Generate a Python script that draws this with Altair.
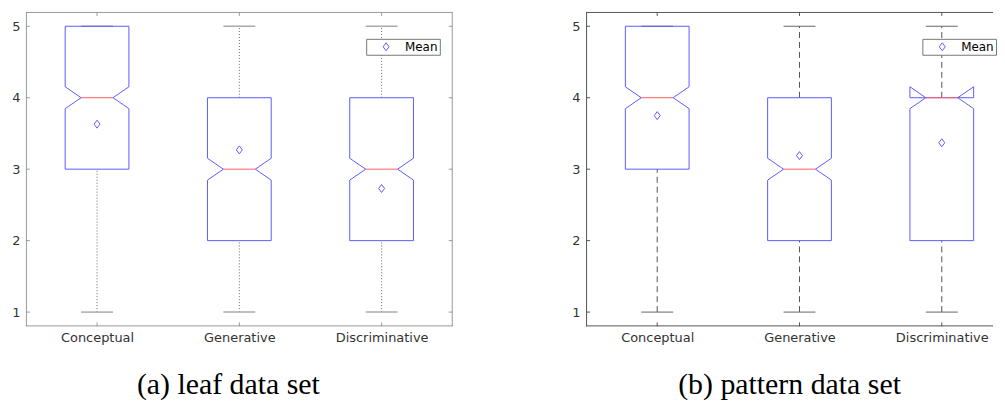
import altair as alt
import pandas as pd

cats = ["Conceptual", "Generative", "Discriminative"]
pos = [1, 2, 3]

# leaf data set
leaf_lo = [1, 1, 1]
leaf_q1 = [3, 2, 2]
leaf_med = [4, 3, 3]
leaf_q3 = [5, 4, 4]
leaf_hi = [5, 5, 5]
leaf_notch = [0.153, 0.153, 0.153]
leaf_mean = [3.63, 3.27, 2.73]

# pattern data set
pat_lo = [1, 1, 1]
pat_q1 = [3, 2, 2]
pat_med = [4, 3, 4]
pat_q3 = [5, 4, 4]
pat_hi = [5, 5, 5]
pat_notch = [0.153, 0.153, 0.153]
pat_mean = [3.75, 3.19, 3.37]

y_ticks = [1, 2, 3, 4, 5]

H = 316
PX_PER_UNIT = 143.0
BOX_HALF = 0.224
NOTCH_HALF = 0.112
BLUE = "#5c5cff"
RED = "#ff5c5c"


def panel(lo, q1, med, q3, hi, notch, mean, caption, frame, whisk_col, whisk_dash,
          cap_col, cap_w, cap_x, width, legend_x, full_frame):
    stats = pd.DataFrame({"cat": cats, "x": pos, "lo": lo, "q1": q1, "med": med,
                          "q3": q3, "hi": hi, "mean": mean, "label": "Mean"})
    stats["xl"] = stats["x"] - NOTCH_HALF
    stats["xr"] = stats["x"] + NOTCH_HALF

    rows = []
    for i, c in enumerate(cats):
        p = pos[i]
        nlo = med[i] - notch[i]
        nhi = med[i] + notch[i]
        pts = [(p - BOX_HALF, q1[i]), (p - BOX_HALF, nlo), (p - NOTCH_HALF, med[i]),
               (p - BOX_HALF, nhi), (p - BOX_HALF, q3[i]), (p + BOX_HALF, q3[i]),
               (p + BOX_HALF, nhi), (p + NOTCH_HALF, med[i]), (p + BOX_HALF, nlo),
               (p + BOX_HALF, q1[i]), (p - BOX_HALF, q1[i])]
        for k, (x, y) in enumerate(pts):
            rows.append({"cat": c, "k": k, "x": x, "y": y})
    poly = pd.DataFrame(rows)

    xmax = 0.5 + width / PX_PER_UNIT
    xs = alt.Scale(domain=[0.5, xmax], nice=False, zero=False)
    ys = alt.Scale(domain=[0.8, 5.2], nice=False, zero=False)

    label_expr = "datum.value == 1 ? 'Conceptual' : datum.value == 2 ? 'Generative' : 'Discriminative'"
    xaxis = alt.Axis(values=pos, labelExpr=label_expr, ticks=False, domain=False, grid=False,
                     labelFont="DejaVu Sans", labelFontSize=13, labelColor="#333333",
                     labelPadding=5, title=caption, titleFont="Liberation Serif",
                     titleFontSize=30, titleFontWeight="normal", titleColor="#000000",
                     titleX=cap_x, titleY=58, titleAlign="center", titleBaseline="middle")
    yaxis = alt.Axis(values=y_ticks, format="d", ticks=False, domain=False, grid=False,
                     labelFont="DejaVu Sans", labelFontSize=13, labelColor="#333333",
                     labelPadding=6, title=None, minExtent=18, maxExtent=18)

    base = alt.Chart(stats)
    whisk_up = base.mark_rule(color=whisk_col, strokeDash=whisk_dash, strokeWidth=1).encode(
        x=alt.X("x:Q", scale=xs, axis=xaxis), y=alt.Y("q3:Q", scale=ys, axis=yaxis), y2="hi:Q")
    whisk_dn = base.mark_rule(color=whisk_col, strokeDash=whisk_dash, strokeWidth=1).encode(
        x=alt.X("x:Q", scale=xs), y=alt.Y("lo:Q", scale=ys), y2="q1:Q")
    cap_hi = base.mark_rule(color=cap_col, strokeWidth=cap_w).encode(
        x=alt.X("xl:Q", scale=xs), x2="xr:Q", y=alt.Y("hi:Q", scale=ys))
    cap_lo = base.mark_rule(color=cap_col, strokeWidth=cap_w).encode(
        x=alt.X("xl:Q", scale=xs), x2="xr:Q", y=alt.Y("lo:Q", scale=ys))
    boxes = alt.Chart(poly).mark_line(color=BLUE, strokeWidth=1).encode(
        x=alt.X("x:Q", scale=xs), y=alt.Y("y:Q", scale=ys), detail="cat:N", order="k:Q")
    medians = base.mark_rule(color=RED, strokeWidth=1).encode(
        x=alt.X("xl:Q", scale=xs), x2="xr:Q", y=alt.Y("med:Q", scale=ys))
    diamond = "M0,-1L0.75,0L0,1L-0.75,0Z"
    means = base.mark_point(shape=diamond, size=64, filled=False, strokeWidth=1, opacity=1).encode(
        x=alt.X("x:Q", scale=xs), y=alt.Y("mean:Q", scale=ys),
        color=alt.Color("label:N", scale=alt.Scale(domain=["Mean"], range=[BLUE]),
                        legend=alt.Legend(title=None, orient="none", legendX=legend_x,
                                          legendY=27, symbolType=diamond, symbolSize=64,
                                          symbolStrokeWidth=1, symbolOffset=12, labelOffset=13,
                                          padding=2, strokeColor="#777777", fillColor="#ffffff",
                                          labelFont="DejaVu Sans", labelFontSize=12,
                                          labelColor="#000000", cornerRadius=0)))

    tick_x = pd.DataFrame({"v": pos})
    tick_y = pd.DataFrame({"v": y_ticks})
    layers = [whisk_up, whisk_dn, cap_hi, cap_lo, boxes, medians, means]
    layers.append(alt.Chart(tick_x).mark_rule(color=frame, strokeWidth=1).encode(
        x=alt.X("v:Q", scale=xs), y=alt.value(H), y2=alt.value(H - 4)))
    layers.append(alt.Chart(tick_x).mark_rule(color=frame, strokeWidth=1).encode(
        x=alt.X("v:Q", scale=xs), y=alt.value(0), y2=alt.value(4)))
    layers.append(alt.Chart(tick_y).mark_rule(color=frame, strokeWidth=1).encode(
        y=alt.Y("v:Q", scale=ys), x=alt.value(0), x2=alt.value(4)))
    # frame lines (crisp, on half pixels)
    one = pd.DataFrame({"v": [0]})
    layers.append(alt.Chart(one).mark_rule(color=frame, strokeWidth=1).encode(
        x=alt.value(0), x2=alt.value(width), y=alt.value(0.5)))
    layers.append(alt.Chart(one).mark_rule(color=frame, strokeWidth=1).encode(
        x=alt.value(0), x2=alt.value(width), y=alt.value(H - 0.5)))
    layers.append(alt.Chart(one).mark_rule(color=frame, strokeWidth=1).encode(
        x=alt.value(0.5), y=alt.value(0), y2=alt.value(H)))
    if full_frame:
        layers.append(alt.Chart(tick_y).mark_rule(color=frame, strokeWidth=1).encode(
            y=alt.Y("v:Q", scale=ys), x=alt.value(width - 4), x2=alt.value(width)))
        layers.append(alt.Chart(one).mark_rule(color=frame, strokeWidth=1).encode(
            x=alt.value(width - 0.5), y=alt.value(0), y2=alt.value(H)))
    view = alt.ViewBackground(strokeWidth=0, fill="white")

    return alt.layer(*layers).properties(width=width, height=H, view=view)


left = panel(leaf_lo, leaf_q1, leaf_med, leaf_q3, leaf_hi, leaf_notch, leaf_mean,
             "(a) leaf data set", "#999999", "#666666", [1, 2], "#aaaaaa", 1.5, 203,
             429, 342, True)
right = panel(pat_lo, pat_q1, pat_med, pat_q3, pat_hi, pat_notch, pat_mean,
              "(b) pattern data set", "#555555", "#555555", [6, 4], "#666666", 1, 204,
              409, 338, False)

chart = alt.hconcat(left, right, spacing=115).resolve_scale(color="independent").resolve_legend(
    color="independent").properties(
    padding={"left": 0, "top": 2, "right": 0, "bottom": 0},
    background="white")

chart.save("out.html", embed_options={"renderer": "svg", "actions": False})
